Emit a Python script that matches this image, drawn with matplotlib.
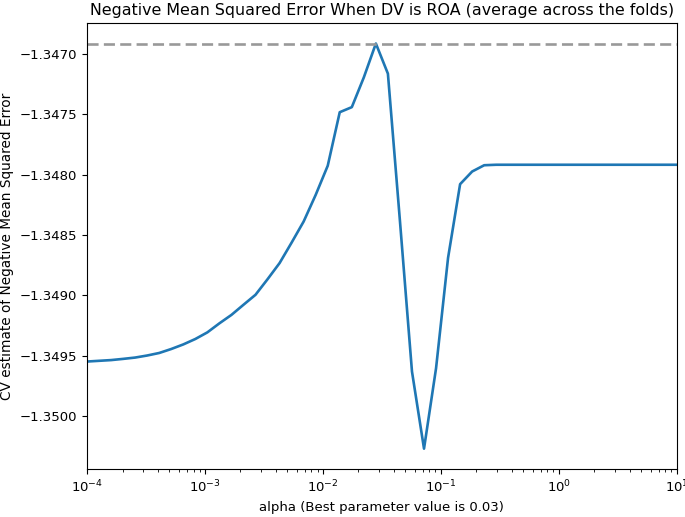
import numpy as np
import matplotlib
matplotlib.use("Agg")
import matplotlib.pyplot as plt

# alpha grid (50 values, 1e-4 .. 10)
alphas = [1.000e-4, 1.265e-4, 1.600e-4, 2.024e-4, 2.560e-4, 3.237e-4, 4.095e-4, 5.179e-4, 6.551e-4, 8.286e-4,
          1.048e-3, 1.326e-3, 1.677e-3, 2.121e-3, 2.683e-3, 3.393e-3, 4.292e-3, 5.429e-3, 6.866e-3, 8.685e-3,
          1.099e-2, 1.389e-2, 1.758e-2, 2.223e-2, 2.812e-2, 3.556e-2, 4.498e-2, 5.690e-2, 7.197e-2, 9.103e-2,
          1.151e-1, 1.456e-1, 1.842e-1, 2.330e-1, 2.947e-1, 3.728e-1, 4.715e-1, 5.964e-1, 7.543e-1, 9.541e-1,
          1.207, 1.526, 1.931, 2.442, 3.089, 3.907, 4.942, 6.251, 7.906, 10.0]

# mean CV negative MSE per alpha
scores = [-1.349550, -1.349544, -1.349538, -1.349528, -1.349517, -1.349500, -1.349479, -1.349446, -1.349408, -1.349363,
          -1.349308, -1.349233, -1.349163, -1.349079, -1.348996, -1.348867, -1.348733, -1.348563, -1.348388, -1.348167,
          -1.347925, -1.347481, -1.347439, -1.347192, -1.346911, -1.347161, -1.348383, -1.349633, -1.350273, -1.349606,
          -1.348689, -1.348078, -1.347973, -1.347921, -1.347917, -1.347917, -1.347917, -1.347917, -1.347917, -1.347917,
          -1.347917, -1.347917, -1.347917, -1.347917, -1.347917, -1.347917, -1.347917, -1.347917, -1.347917, -1.347917]

best_alpha = 0.03

fig = plt.figure(figsize=(6.85, 5.17), dpi=100)
ax = fig.add_subplot(111)
plt.subplots_adjust(left=0.127, right=0.988, top=0.955, bottom=0.093)

ax.semilogx(alphas, scores, color="#1f77b4", lw=1.9)
ax.axhline(np.max(scores), linestyle="--", color="0.6", lw=1.9, dashes=(4.2, 2.0))
ax.set_xlim(alphas[0], alphas[-1])

ax.set_title("Negative Mean Squared Error When DV is ROA (average across the folds)", fontsize=11.4)
ax.set_xlabel("alpha (Best parameter value is {})".format(best_alpha), fontsize=9.5)
ax.set_ylabel("CV estimate of Negative Mean Squared Error", fontsize=9.8)
ax.tick_params(labelsize=9.5)

fig.savefig("out.png", dpi=100)
